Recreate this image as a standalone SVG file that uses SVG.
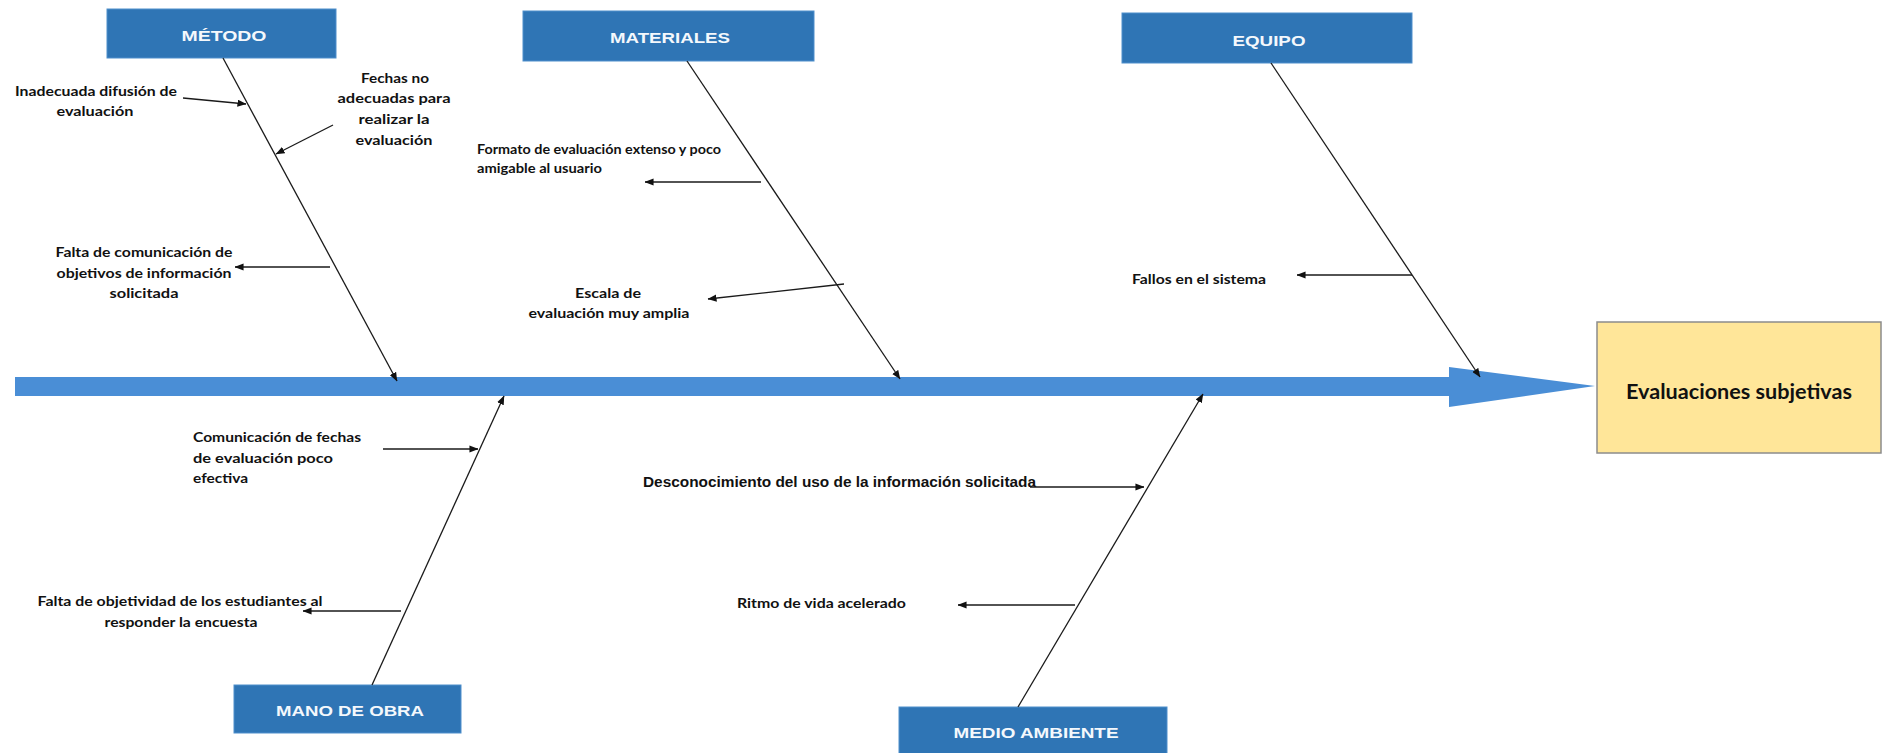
<svg xmlns="http://www.w3.org/2000/svg" width="1887" height="753" viewBox="0 0 1887 753">
  <defs>
    <marker id="tip" viewBox="0 0 10 8" refX="9.5" refY="4" markerWidth="9" markerHeight="7.5" markerUnits="userSpaceOnUse" orient="auto">
      <path d="M0,0 L10,4 L0,8 Z" fill="#111"/>
    </marker>
    <style>
      .cat rect { fill: #2F75B5; stroke: #4F8FCC; stroke-width: 1; }
      .cat text { fill: #F4F8FC; font-family: "Liberation Sans", Arial, sans-serif; font-weight: 700; font-size: 15px; text-anchor: middle; }
      .lbl { fill: #111; font-family: Lato, "Open Sans", sans-serif; font-weight: 700; font-size: 13.5px; }
      .lbl-a { fill: #111; font-family: "Liberation Sans", Arial, sans-serif; font-weight: 700; font-size: 14px; }
      .mid { text-anchor: middle; }
      .bone { stroke: #1a1a1a; stroke-width: 1.3; fill: none; marker-end: url(#tip); }
    </style>
  </defs>
  <rect width="1887" height="753" fill="#FFFFFF"/>

  <!-- spine with arrowhead -->
  <g id="spine">
    <rect x="15" y="377" width="1436" height="19" fill="#4A8ED6"/>
    <polygon points="1449,367 1595,386 1449,407" fill="#4A8ED6"/>
  </g>

  <!-- effect -->
  <g id="efecto">
    <rect x="1597" y="322" width="284" height="131" fill="#FFE699" stroke="#8C8C8C" stroke-width="1.5"/>
    <text x="1739" y="399" fill="#111" font-family="Lato, 'Open Sans', sans-serif" font-weight="700" font-size="20" text-anchor="middle" textLength="226" lengthAdjust="spacingAndGlyphs">Evaluaciones subjetivas</text>
  </g>

  <!-- categories -->
  <g id="metodo" class="cat">
    <rect x="107" y="9" width="229" height="49"/>
    <text x="224" y="41" textLength="85" lengthAdjust="spacingAndGlyphs">MÉTODO</text>
  </g>
  <g id="materiales" class="cat">
    <rect x="523" y="11" width="291" height="50"/>
    <text x="670" y="43" textLength="120" lengthAdjust="spacingAndGlyphs">MATERIALES</text>
  </g>
  <g id="equipo" class="cat">
    <rect x="1122" y="13" width="290" height="50"/>
    <text x="1269" y="46" textLength="73" lengthAdjust="spacingAndGlyphs">EQUIPO</text>
  </g>
  <g id="mano-de-obra" class="cat">
    <rect x="234" y="685" width="227" height="48"/>
    <text x="350" y="716" textLength="148" lengthAdjust="spacingAndGlyphs">MANO DE OBRA</text>
  </g>
  <g id="medio-ambiente" class="cat">
    <rect x="899" y="707" width="268" height="50"/>
    <text x="1036" y="738" textLength="165" lengthAdjust="spacingAndGlyphs">MEDIO AMBIENTE</text>
  </g>

  <!-- cause labels -->
  <g id="causas-metodo">
    <text class="lbl mid" x="96" y="96" textLength="162" lengthAdjust="spacingAndGlyphs">Inadecuada difusión de</text>
    <text class="lbl mid" x="95" y="116" textLength="77" lengthAdjust="spacingAndGlyphs">evaluación</text>
    <text class="lbl mid" x="395" y="83" textLength="68" lengthAdjust="spacingAndGlyphs">Fechas no</text>
    <text class="lbl mid" x="394" y="103" textLength="113" lengthAdjust="spacingAndGlyphs">adecuadas para</text>
    <text class="lbl mid" x="394" y="124" textLength="71" lengthAdjust="spacingAndGlyphs">realizar la</text>
    <text class="lbl mid" x="394" y="145" textLength="77" lengthAdjust="spacingAndGlyphs">evaluación</text>
    <text class="lbl mid" x="144" y="257" textLength="177" lengthAdjust="spacingAndGlyphs">Falta de comunicación de</text>
    <text class="lbl mid" x="144" y="278" textLength="175" lengthAdjust="spacingAndGlyphs">objetivos de información</text>
    <text class="lbl mid" x="144" y="298" textLength="69" lengthAdjust="spacingAndGlyphs">solicitada</text>
  </g>
  <g id="causas-materiales">
    <text class="lbl" x="477" y="154" textLength="244" lengthAdjust="spacingAndGlyphs">Formato de evaluación extenso y poco</text>
    <text class="lbl" x="477" y="173" textLength="125" lengthAdjust="spacingAndGlyphs">amigable al usuario</text>
    <text class="lbl mid" x="608" y="298" textLength="66" lengthAdjust="spacingAndGlyphs">Escala de</text>
    <text class="lbl mid" x="609" y="318" textLength="161" lengthAdjust="spacingAndGlyphs">evaluación muy amplia</text>
  </g>
  <g id="causas-equipo">
    <text class="lbl" x="1132" y="284" textLength="134" lengthAdjust="spacingAndGlyphs">Fallos en el sistema</text>
  </g>
  <g id="causas-mano-de-obra">
    <text class="lbl" x="193" y="442" textLength="168" lengthAdjust="spacingAndGlyphs">Comunicación de fechas</text>
    <text class="lbl" x="193" y="463" textLength="140" lengthAdjust="spacingAndGlyphs">de evaluación  poco</text>
    <text class="lbl" x="193" y="483" textLength="55" lengthAdjust="spacingAndGlyphs">efectiva</text>
    <text class="lbl mid" x="180" y="606" textLength="285" lengthAdjust="spacingAndGlyphs">Falta de objetividad de los estudiantes al</text>
    <text class="lbl mid" x="181" y="627" textLength="153" lengthAdjust="spacingAndGlyphs">responder la encuesta</text>
  </g>
  <g id="causas-medio-ambiente">
    <text class="lbl-a" x="643" y="487" textLength="393" lengthAdjust="spacingAndGlyphs">Desconocimiento del uso de la información solicitada</text>
    <text class="lbl" x="737" y="608" textLength="169" lengthAdjust="spacingAndGlyphs">Ritmo de vida acelerado</text>
  </g>

  <!-- connectors -->
  <g id="connectors">
    <line class="bone" x1="223" y1="58" x2="397" y2="381"/>
    <line class="bone" x1="687" y1="61" x2="900" y2="379"/>
    <line class="bone" x1="1271" y1="63" x2="1480" y2="377"/>
    <line class="bone" x1="372" y1="685" x2="504" y2="396"/>
    <line class="bone" x1="1018" y1="707" x2="1203" y2="394"/>

    <line class="bone" x1="183" y1="98" x2="246" y2="104"/>
    <line class="bone" x1="333" y1="125" x2="276" y2="154"/>
    <line class="bone" x1="330" y1="267" x2="235" y2="267"/>
    <line class="bone" x1="761" y1="182" x2="645" y2="182"/>
    <line class="bone" x1="844" y1="284" x2="708" y2="299"/>
    <line class="bone" x1="1412" y1="275" x2="1297" y2="275"/>
    <line class="bone" x1="383" y1="449" x2="478" y2="449"/>
    <line class="bone" x1="401" y1="611" x2="303" y2="611"/>
    <line class="bone" x1="1030" y1="487" x2="1144" y2="487"/>
    <line class="bone" x1="1075" y1="605" x2="958" y2="605"/>
  </g>
</svg>
